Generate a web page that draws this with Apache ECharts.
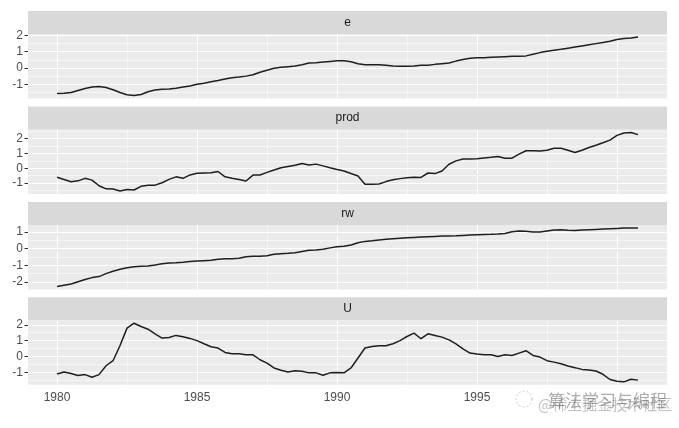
<!DOCTYPE html>
<html>
<head>
<meta charset="utf-8">
<script src="https://cdn.jsdelivr.net/npm/echarts@6/dist/echarts.min.js"></script>
<style>
html,body{margin:0;padding:0;background:#fff;}
#chart{width:679px;height:428px;}
</style>
</head>
<body>
<div id="chart"></div>
<script>
// Quarterly series, 1980 Q1 .. 2000 Q4 (scaled values)
const startYear = 1980;
const quartersPerYear = 4;

const panelNames = ['e', 'prod', 'rw', 'U'];

const eValues = [
 -1.56,-1.55,-1.50,-1.38,-1.26,-1.16,-1.14,-1.20,-1.33,-1.50,
 -1.64,-1.69,-1.62,-1.46,-1.35,-1.31,-1.29,-1.24,-1.17,-1.10,
 -1.00,-0.93,-0.85,-0.77,-0.68,-0.60,-0.56,-0.50,-0.42,-0.26,
 -0.14,-0.02,0.04,0.08,0.12,0.20,0.30,0.32,0.36,0.40,
 0.44,0.44,0.38,0.26,0.20,0.20,0.20,0.16,0.12,0.10,
 0.10,0.12,0.16,0.17,0.22,0.26,0.30,0.42,0.52,0.60,
 0.62,0.63,0.65,0.67,0.69,0.71,0.72,0.74,0.84,0.94,
 1.02,1.08,1.14,1.21,1.28,1.35,1.42,1.49,1.56,1.64,
 1.74,1.80,1.84,1.90
];

const prodValues = [
 -0.61,-0.76,-0.91,-0.85,-0.68,-0.80,-1.18,-1.39,-1.40,-1.54,
 -1.44,-1.47,-1.22,-1.15,-1.14,-0.98,-0.75,-0.58,-0.68,-0.45,
 -0.33,-0.32,-0.31,-0.22,-0.58,-0.68,-0.76,-0.86,-0.46,-0.45,
 -0.28,-0.12,0.04,0.12,0.20,0.32,0.22,0.28,0.16,0.03,
 -0.08,-0.18,-0.35,-0.52,-1.08,-1.08,-1.06,-0.90,-0.78,-0.70,
 -0.64,-0.60,-0.62,-0.32,-0.36,-0.18,0.27,0.50,0.63,0.63,
 0.64,0.70,0.74,0.80,0.68,0.68,0.95,1.18,1.18,1.17,
 1.22,1.35,1.35,1.22,1.06,1.22,1.40,1.55,1.72,1.90,
 2.22,2.38,2.42,2.27
];

const rwValues = [
 -2.28,-2.20,-2.12,-1.99,-1.86,-1.74,-1.68,-1.50,-1.36,-1.24,
 -1.15,-1.08,-1.06,-1.04,-0.98,-0.91,-0.86,-0.84,-0.81,-0.77,
 -0.74,-0.72,-0.70,-0.63,-0.61,-0.61,-0.58,-0.49,-0.46,-0.45,
 -0.42,-0.34,-0.30,-0.28,-0.24,-0.17,-0.10,-0.08,-0.03,0.05,
 0.12,0.15,0.22,0.36,0.44,0.48,0.53,0.57,0.60,0.63,
 0.66,0.68,0.70,0.72,0.74,0.76,0.77,0.78,0.80,0.82,
 0.84,0.86,0.87,0.89,0.92,1.02,1.07,1.05,1.01,1.00,
 1.06,1.12,1.14,1.11,1.09,1.12,1.14,1.16,1.18,1.20,
 1.22,1.24,1.25,1.25
];

const uValues = [
 -1.11,-0.98,-1.08,-1.21,-1.15,-1.32,-1.15,-0.59,-0.27,0.69,
 1.79,2.10,1.89,1.72,1.43,1.16,1.20,1.33,1.25,1.14,
 1.00,0.80,0.61,0.53,0.25,0.17,0.17,0.10,0.10,-0.21,
 -0.42,-0.73,-0.88,-0.98,-0.90,-0.94,-1.04,-1.04,-1.19,-1.04,
 -1.02,-1.04,-0.73,-0.10,0.53,0.63,0.67,0.67,0.80,1.00,
 1.26,1.47,1.12,1.43,1.33,1.22,1.05,0.80,0.48,0.21,
 0.15,0.10,0.10,0.00,0.10,0.06,0.21,0.36,0.06,-0.04,
 -0.27,-0.36,-0.46,-0.61,-0.71,-0.82,-0.86,-0.92,-1.13,-1.46,
 -1.57,-1.61,-1.44,-1.50
];

const yTickValues = [
 [-1, 0, 1, 2],
 [-1, 0, 1, 2],
 [-2, -1, 0, 1],
 [-1, 0, 1, 2]
];
const xTickValues = [1980, 1985, 1990, 1995, 2000];
const xTickLabels = ['1980', '1985', '1990', '1995', ''];

const watermarkMain = '算法学习与编程';
const watermarkSub = '@稀土掘金技术社区';

// ---------- build ----------
const seriesValues = [eValues, prodValues, rwValues, uValues];
const time = eValues.map((_, i) => startYear + i / quartersPerYear);

function expandRange(arr) {
  const lo = Math.min(...arr), hi = Math.max(...arr);
  const pad = (hi - lo) * 0.05;
  return [lo - pad, hi + pad];
}
function minorBreaks(major, range) {
  const step = major[1] - major[0];
  const ext = [major[0] - step, ...major, major[major.length - 1] + step];
  const out = [];
  for (let i = 0; i < ext.length - 1; i++) {
    const m = (ext[i] + ext[i + 1]) / 2;
    if (m > range[0] && m < range[1]) out.push(m);
  }
  return out;
}

const xRange = expandRange(time);
const xMinor = minorBreaks(xTickValues, xRange);

const LEFT = 28, WIDTH = 639;
const stripTops = [11, 106.5, 202, 297.3];
const STRIP_H = 23, PLOT_H = 64.5;

const grids = [], xAxes = [], yAxes = [], series = [], graphics = [];
const majorStyle = {color: '#ffffff', width: 1.1, type: 'solid'};
const minorStyle = {color: '#ffffff', width: 0.55, type: 'solid'};

seriesValues.forEach((vals, k) => {
  const yr = expandRange(vals);
  const yMinor = minorBreaks(yTickValues[k], yr);
  const top = stripTops[k] + STRIP_H;
  grids.push({left: LEFT, width: WIDTH, top: top, height: PLOT_H,
    show: true, backgroundColor: '#EBEBEB', borderWidth: 0});
  const isLast = k === seriesValues.length - 1;
  xAxes.push({
    type: 'value', gridIndex: k, min: xRange[0], max: xRange[1],
    show: isLast,
    axisLine: {show: false},
    splitLine: {show: false},
    axisTick: {show: true, length: 3.5, customValues: xTickValues,
      lineStyle: {color: '#333333', width: 1}},
    axisLabel: {show: true, customValues: xTickValues, margin: 7,
      color: '#4D4D4D', fontSize: 12, fontFamily: 'Liberation Sans, Arial, sans-serif',
      formatter: v => { const idx = xTickValues.indexOf(Math.round(v)); return idx >= 0 ? xTickLabels[idx] : ''; }}
  });
  yAxes.push({
    type: 'value', gridIndex: k, min: yr[0], max: yr[1],
    axisLine: {show: false},
    splitLine: {show: false},
    axisTick: {show: true, length: 3.5, customValues: yTickValues[k],
      lineStyle: {color: '#333333', width: 1}},
    axisLabel: {show: true, customValues: yTickValues[k], margin: 5,
      color: '#4D4D4D', fontSize: 12, fontFamily: 'Liberation Sans, Arial, sans-serif',
      formatter: v => String(Math.round(v))}
  });
  const gridLines = [];
  yMinor.forEach(v => gridLines.push({yAxis: v, lineStyle: minorStyle}));
  xMinor.forEach(v => gridLines.push({xAxis: v, lineStyle: minorStyle}));
  yTickValues[k].forEach(v => gridLines.push({yAxis: v, lineStyle: majorStyle}));
  xTickValues.forEach(v => gridLines.push({xAxis: v, lineStyle: majorStyle}));
  // helper series carrying the panel grid lines
  series.push({
    type: 'line', xAxisIndex: k, yAxisIndex: k, z: 1,
    data: [], silent: true, showSymbol: false,
    markLine: {silent: true, z: 1, symbol: ['none', 'none'], animation: false,
      label: {show: false}, emphasis: {disabled: true}, data: gridLines}
  });
  series.push({
    name: panelNames[k], type: 'line', xAxisIndex: k, yAxisIndex: k, z: 10,
    data: vals.map((v, i) => [time[i], v]),
    showSymbol: false, symbol: 'none', smooth: false,
    lineStyle: {color: '#1f1f1f', width: 1.5},
    animation: false
  });
  graphics.push({type: 'rect', left: LEFT, top: stripTops[k],
    shape: {width: WIDTH, height: STRIP_H}, style: {fill: '#D9D9D9'}, silent: true});
  graphics.push({type: 'text', x: LEFT + WIDTH / 2, y: stripTops[k] + STRIP_H / 2,
    style: {text: panelNames[k], fill: '#1A1A1A', fontSize: 12,
      fontFamily: 'Liberation Sans, Arial, sans-serif', align: 'center', verticalAlign: 'middle'}});
});

// watermark
graphics.push({type: 'text', x: 538, y: 404, z: 100,
  style: {text: watermarkSub, fill: 'rgba(120,120,120,0.45)', fontSize: 15,
    fontFamily: 'Noto Sans CJK SC', verticalAlign: 'middle'}});
graphics.push({type: 'text', x: 548, y: 401, z: 101,
  style: {text: watermarkMain, fill: 'rgba(90,90,90,0.5)', fontSize: 17,
    fontFamily: 'Noto Sans CJK SC', verticalAlign: 'middle'}});
graphics.push({type: 'circle', shape: {cx: 524, cy: 399, r: 8}, z: 100,
  style: {fill: 'none', stroke: 'rgba(150,150,150,0.5)', lineWidth: 1, lineDash: [2, 2]}});

const chart = echarts.init(document.getElementById('chart'), null, {renderer: 'canvas'});
chart.setOption({
  animation: false,
  backgroundColor: '#ffffff',
  grid: grids, xAxis: xAxes, yAxis: yAxes, series: series, graphic: graphics
});
</script>
</body>
</html>
